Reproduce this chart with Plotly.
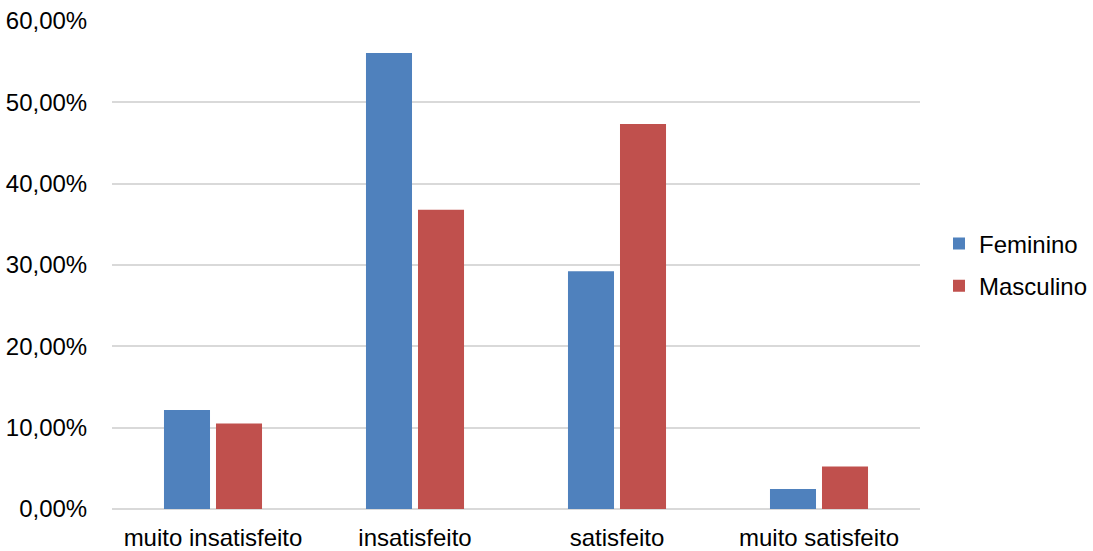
import plotly.graph_objects as go

categories = ["muito insatisfeito", "insatisfeito", "satisfeito", "muito satisfeito"]
feminino = [12.18, 56.07, 29.24, 2.46]
masculino = [10.50, 36.80, 47.34, 5.23]
y_ticks = [0, 10, 20, 30, 40, 50, 60]
y_tick_labels = ["0,00%", "10,00%", "20,00%", "30,00%", "40,00%", "50,00%", "60,00%"]

FAM = "Liberation Sans, Arial, sans-serif"
font = dict(family=FAM, size=24, color="#000000")

fig = go.Figure()
fig.add_trace(go.Bar(name="Feminino", x=categories, y=feminino, legendgroup="f",
                     marker=dict(color="#4F81BD", line=dict(width=0))))
fig.add_trace(go.Bar(name="Masculino", x=categories, y=masculino, legendgroup="m",
                     marker=dict(color="#C0504D", line=dict(width=0))))

fig.update_layout(
    width=1093, height=551,
    margin=dict(l=112, r=173, t=21, b=41.5, autoexpand=False),
    paper_bgcolor="white", plot_bgcolor="white",
    barmode="group", bargap=0.485, bargroupgap=0.115,
    font=font,
    showlegend=True,
    legend=dict(x=(939 - 112) / 808, y=0.5, xanchor="left", yanchor="middle",
                font=font, itemwidth=30, tracegroupgap=8, traceorder="grouped",
                bgcolor="rgba(0,0,0,0)"),
    xaxis=dict(showgrid=False, showline=False, zeroline=False, automargin=False,
               ticks="outside", ticklen=7, tickcolor="rgba(0,0,0,0)",
               tickfont=font),
    yaxis=dict(range=[0, 60], tickvals=y_ticks, ticktext=y_tick_labels, automargin=False,
               showgrid=True, gridcolor="#D9D9D9", gridwidth=1.5,
               zeroline=True, zerolinecolor="#D9D9D9", zerolinewidth=1.5,
               showline=False, ticks="outside", ticklen=19, tickcolor="rgba(0,0,0,0)",
               tickfont=font),
)
fig.write_html("out.html")
